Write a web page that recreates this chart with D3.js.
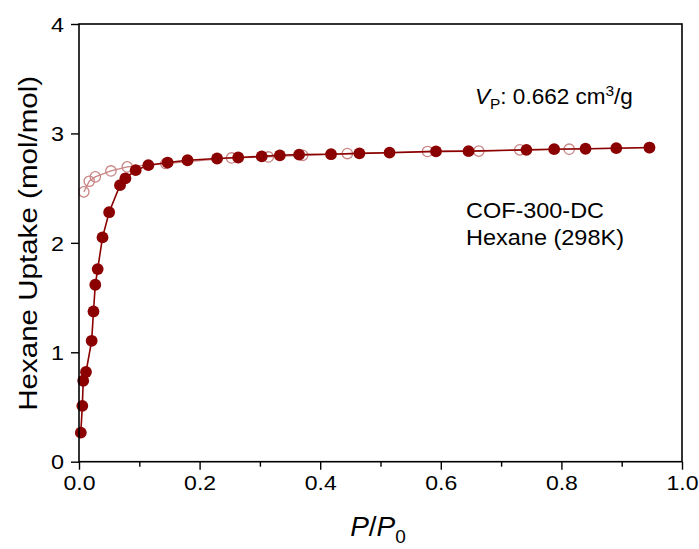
<!DOCTYPE html>
<html><head><meta charset="utf-8">
<script src="https://cdn.jsdelivr.net/npm/d3@7/dist/d3.min.js"></script>
<style>body{margin:0;background:#fff}text{font-family:"Liberation Sans",Arial,sans-serif}</style>
</head><body><svg id="c" width="699" height="549"></svg>
<script>
const adsX = [0.003,0.0055,0.007,0.0116,0.021,0.024,0.027,0.031,0.039,0.050,0.068,0.077,0.094,0.115,0.147,0.180,0.229,0.264,0.303,0.333,0.365,0.418,0.465,0.515,0.592,0.646,0.742,0.788,0.840,0.891,0.946];
const adsY = [0.265,0.51,0.74,0.82,1.105,1.373,1.617,1.76,2.05,2.28,2.527,2.59,2.664,2.71,2.734,2.755,2.771,2.78,2.79,2.80,2.806,2.81,2.818,2.824,2.836,2.838,2.85,2.856,2.86,2.865,2.871];
const desX = [0.946,0.813,0.731,0.663,0.578,0.445,0.371,0.314,0.253,0.144,0.080,0.053,0.027,0.017,0.008];
const desY = [2.871,2.856,2.85,2.838,2.835,2.816,2.80,2.785,2.776,2.725,2.694,2.657,2.603,2.563,2.466];
const xTicks = [0,0.2,0.4,0.6,0.8,1.0];
const xMinor = [0.1,0.3,0.5,0.7,0.9];
const yTicks = [0,1,2,3,4];

const svg = d3.select("#c");
const L=79,R=682,T=24,B=461.7;
const x = d3.scaleLinear().domain([0,1]).range([L,R]);
const y = d3.scaleLinear().domain([0,4]).range([B,T]);
const dark="#8b0000", light="#c98585";

const des = desX.map((v,i)=>[v,desY[i]]);
const ads = adsX.map((v,i)=>[v,adsY[i]]);
const line = d3.line().x(d=>x(d[0])).y(d=>y(d[1]));
svg.append("path").attr("d",line(des)).attr("fill","none").attr("stroke",light).attr("stroke-width",1.3);
svg.selectAll(".o").data(des).enter().append("circle").attr("cx",d=>x(d[0])).attr("cy",d=>y(d[1])).attr("r",5.2)
  .attr("fill","none").attr("stroke",light).attr("stroke-width",1.3);
svg.append("path").attr("d",line(ads)).attr("fill","none").attr("stroke",dark).attr("stroke-width",1.6);
svg.selectAll(".f").data(ads).enter().append("circle").attr("cx",d=>x(d[0])).attr("cy",d=>y(d[1])).attr("r",5.9)
  .attr("fill",dark);

// axes
const xa = svg.append("g").attr("transform",`translate(0,${B})`)
  .call(d3.axisBottom(x).tickValues(xTicks).tickFormat(d3.format(".1f")).tickSize(8).tickPadding(5));
const xm = svg.append("g").attr("transform",`translate(0,${B})`)
  .call(d3.axisBottom(x).tickValues(xMinor).tickFormat("").tickSize(5));
const ya = svg.append("g").attr("transform",`translate(${L},0)`)
  .call(d3.axisLeft(y).tickValues(yTicks).tickFormat(d3.format("d")).tickSize(8).tickPadding(7));
[xa,xm,ya].forEach(g=>{g.attr("font-size",null).attr("font-family",null);
  g.select(".domain").remove();g.selectAll("line").attr("stroke","#000").attr("stroke-width",1.4);
  g.selectAll("text").style("font-size","20px").attr("fill","#000").style("font-family","Liberation Sans, Arial, sans-serif");});
ya.selectAll("text").attr("dy","0.36em").attr("textLength",13).attr("lengthAdjust","spacingAndGlyphs");
xa.selectAll("text").attr("dy","0.75em").attr("textLength",32).attr("lengthAdjust","spacingAndGlyphs");
svg.append("rect").attr("x",L).attr("y",T).attr("width",R-L).attr("height",B-T).attr("fill","none").attr("stroke","#000").attr("stroke-width",1.6);

// titles
svg.append("text").attr("transform",`translate(37,${(T+B)/2+0.5}) rotate(-90)`).attr("text-anchor","middle")
  .attr("font-size",25).attr("textLength",335).attr("lengthAdjust","spacingAndGlyphs").text("Hexane Uptake (mol/mol)");
const xt = svg.append("text").attr("x",378).attr("y",536).attr("text-anchor","middle").attr("font-size",28);
xt.append("tspan").attr("font-style","italic").text("P");
xt.append("tspan").text("/");
xt.append("tspan").attr("font-style","italic").text("P");
xt.append("tspan").attr("font-size",19).attr("dy",7).text("0");

const vp = svg.append("text").attr("x",475).attr("y",104).attr("font-size",22.5);
vp.append("tspan").attr("font-style","italic").text("V");
vp.append("tspan").attr("font-size",15.5).attr("dy",5).text("P");
vp.append("tspan").attr("dy",-5).text(": 0.662 cm");
vp.append("tspan").attr("font-size",15.5).attr("dy",-8).text("3");
vp.append("tspan").attr("dy",8).text("/g");
svg.append("text").attr("x",466).attr("y",217.5).attr("font-size",22).attr("textLength",138).attr("lengthAdjust","spacingAndGlyphs").text("COF-300-DC");
svg.append("text").attr("x",466).attr("y",245).attr("font-size",22).attr("textLength",158).attr("lengthAdjust","spacingAndGlyphs").text("Hexane (298K)");
</script></body></html>
